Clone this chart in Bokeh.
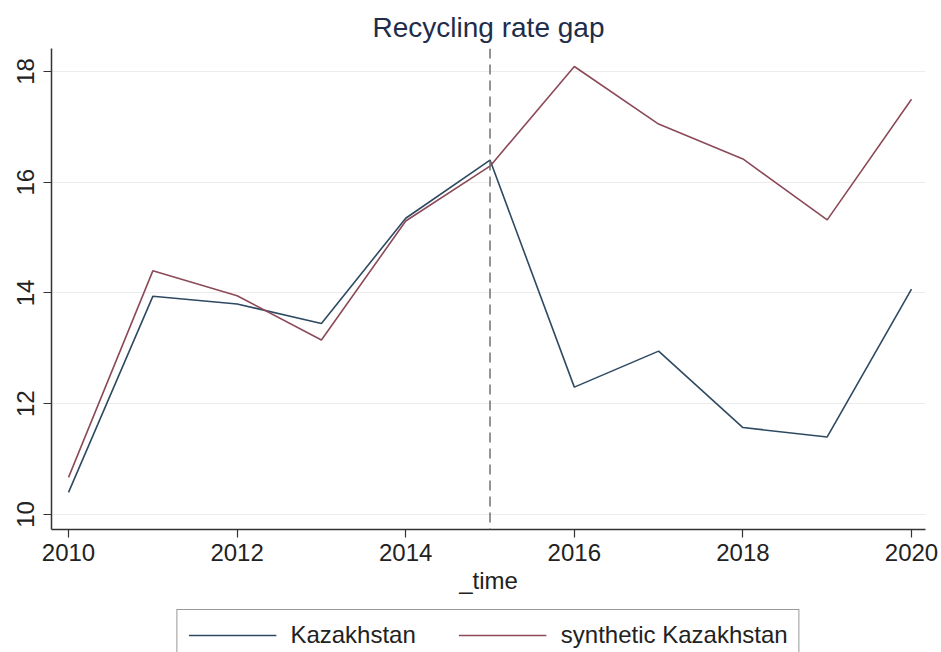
from bokeh.plotting import figure
from bokeh.layouts import column
from bokeh.models import Legend, LegendItem, Span, FixedTicker, Range1d
from bokeh.embed import file_html
from bokeh.resources import INLINE

years = [2010, 2011, 2012, 2013, 2014, 2015, 2016, 2017, 2018, 2019, 2020]
kazakhstan = [10.40, 13.94, 13.80, 13.45, 15.35, 16.40, 12.30, 12.95, 11.57, 11.40, 14.07]
synthetic = [10.67, 14.40, 13.95, 13.15, 15.30, 16.29, 18.09, 17.05, 16.42, 15.32, 17.50]
x_ticks = [2010, 2012, 2014, 2016, 2018, 2020]
y_ticks = [10, 12, 14, 16, 18]
treatment_year = 2015
title_text = "Recycling rate gap"
x_label = "_time"
labels = ["Kazakhstan", "synthetic Kazakhstan"]

FONT = "Liberation Sans"
KAZ_COLOR = "#2e4a62"
SYN_COLOR = "#8c4a58"
X_RANGE = (2009.798, 2020.166)
Y_RANGE = (9.729, 18.415)

p = figure(frame_width=874, frame_height=481,
           x_range=Range1d(*X_RANGE), y_range=Range1d(*Y_RANGE),
           output_backend="svg", toolbar_location=None,
           min_border_left=51, min_border_right=16, min_border_top=48, min_border_bottom=79)

p.title.text = title_text
p.title.align = "center"
p.title.text_font = FONT
p.title.text_font_size = "28px"
p.title.text_font_style = "normal"
p.title.text_color = "#1e2d4a"
p.title.standoff = 12

p.outline_line_color = None
p.background_fill_color = "white"
p.border_fill_color = "white"

p.xgrid.grid_line_color = None
p.ygrid.grid_line_color = "#ececec"
p.ygrid.grid_line_width = 1
p.ygrid.ticker = FixedTicker(ticks=y_ticks)

for ax in (p.xaxis, p.yaxis):
    ax.axis_line_color = "#333333"
    ax.axis_line_width = 1.5
    ax.major_tick_line_color = "#333333"
    ax.major_tick_line_width = 1.2
    ax.major_tick_in = 0
    ax.major_tick_out = 8
    ax.minor_tick_line_color = None
    ax.major_label_text_font = FONT
    ax.major_label_text_font_size = "24px"
    ax.major_label_text_color = "#222222"

p.xaxis.ticker = FixedTicker(ticks=x_ticks)
p.yaxis.ticker = FixedTicker(ticks=y_ticks)
p.yaxis.major_label_orientation = "vertical"
p.yaxis.major_label_standoff = 9
p.xaxis.major_label_standoff = 6
p.xaxis.axis_label = x_label
p.xaxis.axis_label_text_font = FONT
p.xaxis.axis_label_text_font_size = "24px"
p.xaxis.axis_label_text_font_style = "normal"
p.xaxis.axis_label_text_color = "#222222"
p.xaxis.axis_label_standoff = 3

span = Span(location=treatment_year, dimension="height", line_color="#707070",
            line_width=1.5, line_dash="10 6")
p.add_layout(span)

p.line(years, kazakhstan, line_color=KAZ_COLOR, line_width=1.6)
p.line(years, synthetic, line_color=SYN_COLOR, line_width=1.6)

# legend strip below the chart (legend keys reference hidden copies of the series)
leg = figure(width=941, height=50, x_range=Range1d(*X_RANGE), y_range=Range1d(*Y_RANGE),
             output_backend="svg", toolbar_location=None,
             x_axis_type=None, y_axis_type=None,
             min_border_left=51, min_border_right=16, min_border_top=1, min_border_bottom=0)
leg.outline_line_color = None
leg.xgrid.grid_line_color = None
leg.ygrid.grid_line_color = None
k1 = leg.line(years, kazakhstan, line_color=KAZ_COLOR, line_width=1.6, visible=False)
k2 = leg.line(years, synthetic, line_color=SYN_COLOR, line_width=1.6, visible=False)

legend = Legend(items=[LegendItem(label=labels[0], renderers=[k1]),
                       LegendItem(label=labels[1], renderers=[k2])],
                orientation="horizontal", location="top_center")
legend.border_line_color = "#333333"
legend.border_line_width = 1.2
legend.background_fill_color = "white"
legend.inactive_fill_alpha = 0
legend.label_text_font = FONT
legend.label_text_font_size = "24px"
legend.label_text_color = "#222222"
legend.glyph_width = 88
legend.label_standoff = 14
legend.spacing = 43
legend.padding = 11
legend.margin = 0
leg.add_layout(legend, "center")

layout = column(p, leg, spacing=0)
open("out.html", "w").write(file_html(layout, INLINE))
